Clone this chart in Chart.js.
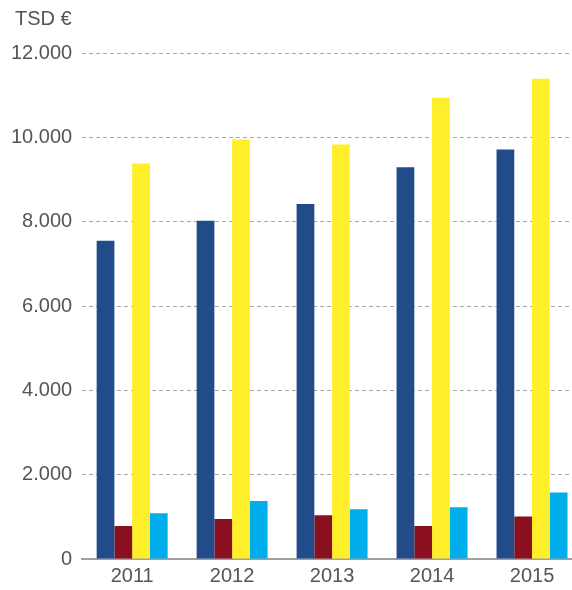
<!DOCTYPE html>
<html>
<head>
<meta charset="utf-8">
<script src="https://cdn.jsdelivr.net/npm/chart.js@4/dist/chart.umd.min.js"></script>
<style>
  html, body { margin: 0; padding: 0; background: #fff; overflow: hidden; }
  #wrap { width: 572px; height: 590px; overflow: hidden; }
</style>
</head>
<body>
<div id="wrap"><canvas id="myChart1" width="590" height="593"></canvas></div>
<script>
const years = ['2011', '2012', '2013', '2014', '2015'];
const blueValues = [7550, 8020, 8420, 9290, 9710];
const redValues = [780, 950, 1040, 780, 1010];
const yellowValues = [9380, 9950, 9830, 10940, 11390];
const cyanValues = [1085, 1375, 1180, 1225, 1580];
const yTicks = [0, 2000, 4000, 6000, 8000, 10000, 12000];
const unitLabel = 'TSD €';

const textColor = '#555555';
const font = { family: 'Liberation Sans, Arial, sans-serif', size: 20 };

function fmt(v) {
  return v === 0 ? '0' : String(v).replace(/\B(?=(\d{3})+(?!\d))/g, '.');
}

// unit label in the top left corner
const unitPlugin = {
  id: 'unit',
  afterDraw(chart) {
    const c = chart.ctx;
    c.save();
    c.font = font.size + 'px ' + font.family;
    c.fillStyle = textColor;
    c.textAlign = 'left';
    c.textBaseline = 'middle';
    c.fillText(unitLabel, 15, 19);
    c.restore();
  }
};

let ctx = document.getElementById('myChart1').getContext('2d');
new Chart(ctx, {
  type: 'bar',
  data: {
    labels: years,
    datasets: [
      { data: blueValues, backgroundColor: '#224B89' },
      { data: redValues, backgroundColor: '#8A1020' },
      { data: yellowValues, backgroundColor: '#FFEF2A' },
      { data: cyanValues, backgroundColor: '#00AEEB' }
    ]
  },
  options: {
    responsive: false,
    animation: false,
    layout: { padding: { left: 1, right: 8, top: 53, bottom: 0 } },
    datasets: { bar: { categoryPercentage: 0.71, barPercentage: 1.0 } },
    plugins: {
      legend: { display: false },
      tooltip: { enabled: false }
    },
    scales: {
      x: {
        grid: { display: false, drawTicks: false },
        border: { display: true, color: '#a0a0a0', width: 2 },
        ticks: { color: textColor, font: font, padding: 5 }
      },
      y: {
        min: 0,
        max: 12000,
        afterBuildTicks: function (axis) {
          axis.ticks = yTicks.map(v => ({ value: v }));
        },
        grid: { color: '#a6a6a6', lineWidth: 1, drawTicks: false },
        border: { display: false, dash: [4, 3] },
        ticks: {
          color: textColor,
          font: font,
          padding: 10,
          callback: v => fmt(v)
        }
      }
    }
  },
  plugins: [unitPlugin]
});
</script>
</body>
</html>
